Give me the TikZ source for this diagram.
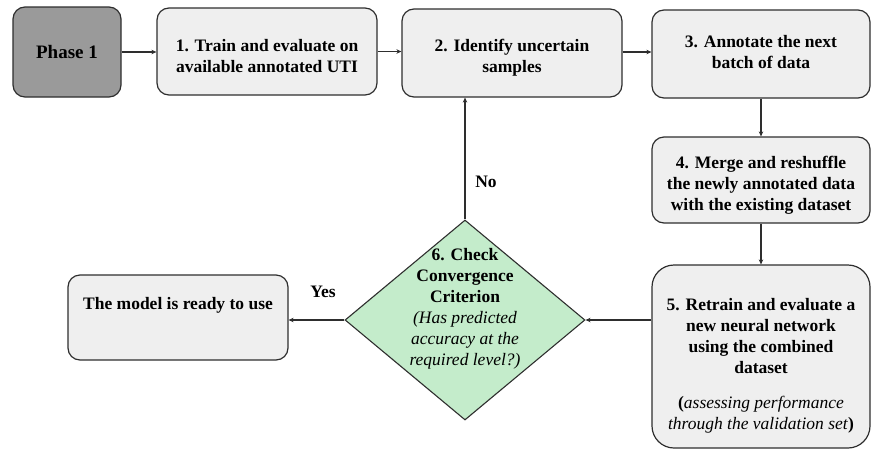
\documentclass[tikz,border=0pt]{standalone}
\usepackage{fontspec}
\setmainfont{Liberation Serif}
\usetikzlibrary{shapes.geometric,arrows.meta}

\definecolor{boxfill}{HTML}{EFEFEF}
\definecolor{phasefill}{HTML}{9A9A9A}
\definecolor{edge}{HTML}{2E2E2E}
\definecolor{checkfill}{HTML}{C4ECCB}

\tikzset{
  stagebox/.style={draw=edge, line width=1.2pt, fill=boxfill, rounded corners=12pt,
    inner sep=0pt},
  phasebox/.style={stagebox, fill=phasefill, font=\fontsize{19}{22}\selectfont\bfseries},
  stagetext/.style={align=center, inner sep=0pt, font=\fontsize{17.5}{21}\selectfont\bfseries},
  checkshape/.style={draw=edge, line width=1.1pt, fill=checkfill, shape=diamond,
    inner sep=0pt, minimum width=240pt, minimum height=200pt},
  flow/.style={draw=edge, line width=1.1pt, -{Stealth[length=5pt,width=4.5pt]}},
  tag/.style={font=\fontsize{17.5}{21}\selectfont\bfseries},
}

\begin{document}
\begin{tikzpicture}[x=1pt, y=-1pt]
  \useasboundingbox (0,0) rectangle (872,450);

  % process steps: frames
  \node[phasebox, minimum width=108pt, minimum height=90pt] (phase) at (67,52) {Phase 1};
  \node[stagebox, minimum width=220pt, minimum height=87pt] (s1) at (267,51.5) {};
  \node[stagebox, minimum width=220pt, minimum height=88pt] (s2) at (512,53) {};
  \node[stagebox, minimum width=218pt, minimum height=88pt] (s3) at (761,54) {};
  \node[stagebox, minimum width=218pt, minimum height=86pt] (s4) at (761,180) {};
  \node[stagebox, rounded corners=22pt, minimum width=218pt, minimum height=183pt] (s5) at (761,356.5) {};

  % process steps: captions
  \node[stagetext] (s1txt) at ([yshift=-5pt]s1.center)
    {1. Train and evaluate on\\available annotated UTI};
  \node[stagetext] (s2txt) at ([yshift=-5pt]s2.center)
    {2. Identify uncertain\\samples};
  \node[stagetext] (s3txt) at ([yshift=2pt]s3.center)
    {3. Annotate the next\\batch of data};
  \node[stagetext] (s4txt) at ([yshift=-5pt]s4.center)
    {4. Merge and reshuffle\\the newly annotated data\\with the existing dataset};
  \node[stagetext] (s5txt) at ([yshift=-9pt]s5.center)
    {5. Retrain and evaluate a\\new neural network\\using the combined\\dataset\\[14pt]
     (\textit{\mdseries assessing performance}\\\textit{\mdseries through the validation set})};

  % convergence check
  \node[checkshape] (chk) at (465,320) {};
  \node[align=center, font=\fontsize{17.5}{21}\selectfont] (chktxt) at (465,309)
    {\textbf{6. Check}\\\textbf{Convergence}\\\textbf{Criterion}\\\textit{(Has predicted}\\\textit{accuracy at the}\\\textit{required level?)}};

  % final outcome
  \node[stagebox, minimum width=220pt, minimum height=85pt] (done) at (178,317.5) {};
  \node[stagetext] (donetxt) at (178,305) {The model is ready to use};

  % connectors
  \draw[flow] (phase.east) -- (s1.west |- phase.east);
  \draw[flow] (s1.east) -- (s2.west |- s1.east);
  \draw[flow] (s2.east |- 0,52) -- (s3.west |- 0,52);
  \draw[flow] (s3.south) -- (s4.north);
  \draw[flow] (s4.south) -- (s5.north);
  \draw[flow] (chk.east -| s5.west) -- (chk.east);
  \draw[flow] (chk.north) -- (chk.north |- s2.south);
  \draw[flow] (chk.west) -- (chk.west -| done.east);

  % branch labels
  \node[tag] (no) at (486,182) {No};
  \node[tag] (yes) at (323,292) {Yes};
\end{tikzpicture}
\end{document}
